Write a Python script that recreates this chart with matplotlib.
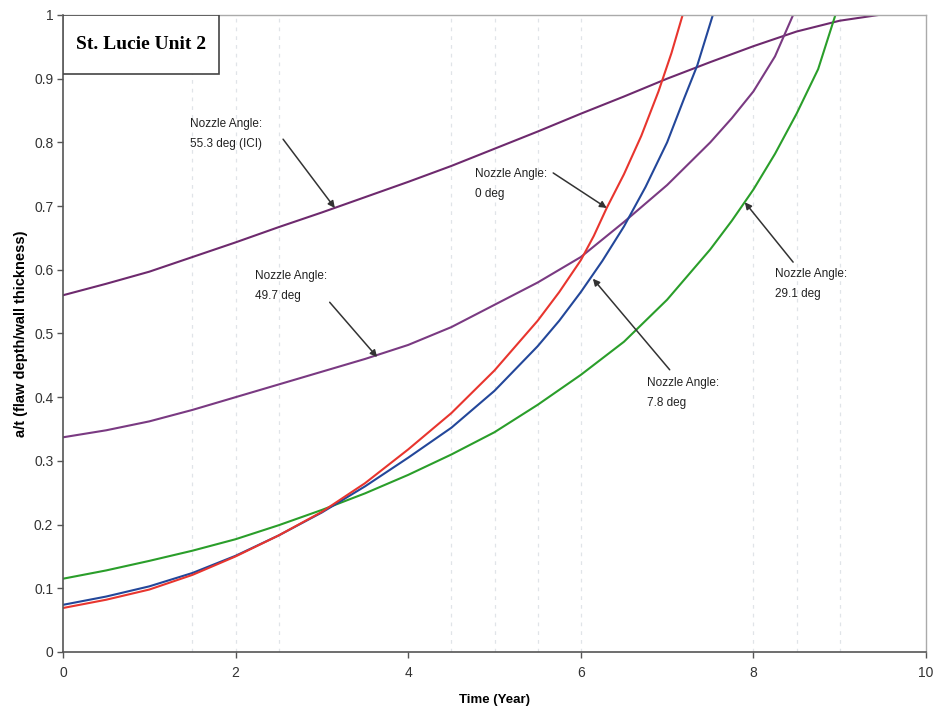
import matplotlib.pyplot as plt
from matplotlib.patches import Rectangle

# Crack growth curves, a/t versus time, one per nozzle angle
t_0deg = [0, 0.5, 1, 1.5, 2, 2.5, 3, 3.5, 4, 4.5, 5, 5.5, 5.75, 6, 6.15, 6.3, 6.5, 6.7, 6.9, 7.05, 7.18]
at_0deg = [0.069, 0.082, 0.098, 0.121, 0.150, 0.183, 0.220, 0.265, 0.318, 0.375, 0.442,
           0.520, 0.565, 0.615, 0.653, 0.697, 0.750, 0.810, 0.880, 0.940, 1.0]

t_7_8deg = [0, 0.5, 1, 1.5, 2, 2.5, 3, 3.5, 4, 4.5, 5, 5.5, 5.75, 6, 6.25, 6.5, 6.75, 7, 7.2, 7.35, 7.53]
at_7_8deg = [0.074, 0.087, 0.103, 0.124, 0.151, 0.183, 0.219, 0.260, 0.305, 0.352, 0.410,
             0.480, 0.520, 0.565, 0.614, 0.668, 0.730, 0.800, 0.870, 0.921, 1.0]

t_29_1deg = [0, 0.5, 1, 1.5, 2, 2.5, 3, 3.5, 4, 4.5, 5, 5.5, 6, 6.5, 7, 7.5, 7.75, 8, 8.25, 8.5, 8.75, 8.95]
at_29_1deg = [0.115, 0.128, 0.143, 0.159, 0.177, 0.199, 0.223, 0.249, 0.278, 0.310, 0.345,
              0.388, 0.435, 0.487, 0.553, 0.632, 0.677, 0.726, 0.782, 0.845, 0.915, 1.0]

t_49_7deg = [0, 0.5, 1, 1.5, 2, 2.5, 3, 3.5, 4, 4.5, 5, 5.5, 6, 6.5, 7, 7.5, 7.75, 8, 8.25, 8.46]
at_49_7deg = [0.337, 0.348, 0.362, 0.380, 0.400, 0.420, 0.440, 0.460, 0.482, 0.510, 0.545,
              0.580, 0.620, 0.675, 0.733, 0.800, 0.838, 0.880, 0.935, 1.0]

t_55_3deg = [0, 0.5, 1, 1.5, 2, 2.5, 3, 3.5, 4, 4.5, 5, 5.5, 6, 6.5, 7, 7.5, 8, 8.5, 9, 9.45]
at_55_3deg = [0.560, 0.578, 0.597, 0.620, 0.643, 0.667, 0.690, 0.714, 0.738, 0.763, 0.790,
              0.817, 0.845, 0.872, 0.900, 0.926, 0.951, 0.974, 0.991, 1.0]

# faint dashed vertical guides
guide_x = [1.5, 2, 2.5, 4.5, 5, 5.5, 6, 8, 8.5, 9]

x_ticks = [0, 2, 4, 6, 8, 10]
y_ticks = [0, 0.1, 0.2, 0.3, 0.4, 0.5, 0.6, 0.7, 0.8, 0.9, 1]
y_tick_labels = ['0', '0.1', '0.2', '0.3', '0.4', '0.5', '0.6', '0.7', '0.8', '0.9', '1']

# label text, text corner, arrow tail, arrow head
notes = [
    ('Nozzle Angle:\n55.3 deg (ICI)', (1.47, 0.838), (2.55, 0.805), (3.15, 0.697)),
    ('Nozzle Angle:\n49.7 deg', (2.22, 0.600), (3.09, 0.549), (3.64, 0.463)),
    ('Nozzle Angle:\n0 deg', (4.77, 0.760), (5.68, 0.752), (6.30, 0.697)),
    ('Nozzle Angle:\n7.8 deg', (6.77, 0.432), (7.03, 0.443), (6.14, 0.586)),
    ('Nozzle Angle:\n29.1 deg', (8.25, 0.603), (8.46, 0.612), (7.90, 0.706)),
]

plt.rcParams['font.family'] = ['Liberation Sans', 'DejaVu Sans']

fig = plt.figure(figsize=(9.43, 7.13), dpi=100)
ax = fig.add_axes([0.0668, 0.0856, 0.9152, 0.8934])

for gx in guide_x:
    ax.axvline(gx, color='#e0e4e8', lw=0.9, ls=(0, (3, 4)), zorder=0)

ax.plot(t_55_3deg, at_55_3deg, color='#6e2a6e', lw=1.5)
ax.plot(t_49_7deg, at_49_7deg, color='#7a3a82', lw=1.5)
ax.plot(t_29_1deg, at_29_1deg, color='#2a9e2a', lw=1.5)
ax.plot(t_7_8deg, at_7_8deg, color='#23479a', lw=1.5)
ax.plot(t_0deg, at_0deg, color='#e8352e', lw=1.5)

for text, pos, tail, head in notes:
    ax.text(pos[0], pos[1], text, fontsize=8.5, va='top', ha='left',
            linespacing=1.9, color='#222222')
    ax.annotate('', xy=head, xytext=tail,
                arrowprops=dict(arrowstyle='-|>', color='#333333', lw=1.1,
                                mutation_scale=10, shrinkA=0, shrinkB=0))

ax.set_xlim(0, 10)
ax.set_ylim(0, 1)
ax.set_xticks(x_ticks)
ax.set_yticks(y_ticks)
ax.set_yticklabels(y_tick_labels)
ax.tick_params(direction='out', length=4, width=1, colors='#555555',
               labelcolor='#333333', labelsize=10)
ax.tick_params(axis='x', pad=6)
ax.tick_params(axis='y', pad=3)

for side in ['left', 'bottom']:
    ax.spines[side].set_color('#555555')
    ax.spines[side].set_linewidth(1.2)
for side in ['top', 'right']:
    ax.spines[side].set_color('#aaaaaa')
    ax.spines[side].set_linewidth(1.0)

ax.set_xlabel('Time (Year)', fontsize=9.5, fontweight='bold', labelpad=10)
ax.set_ylabel('a/t (flaw depth/wall thickness)', fontsize=10.5, fontweight='bold', labelpad=4)

# title box in the top-left corner
ax.add_patch(Rectangle((0, 0.907), 1.81, 0.093, transform=ax.transData,
                       facecolor='white', edgecolor='#444444', lw=1.2, zorder=5))
ax.text(0.905, 0.953, 'St. Lucie Unit 2', fontsize=14, fontweight='bold',
        family='Liberation Serif', ha='center', va='center', zorder=6)

fig.savefig('out.png', dpi=100)
